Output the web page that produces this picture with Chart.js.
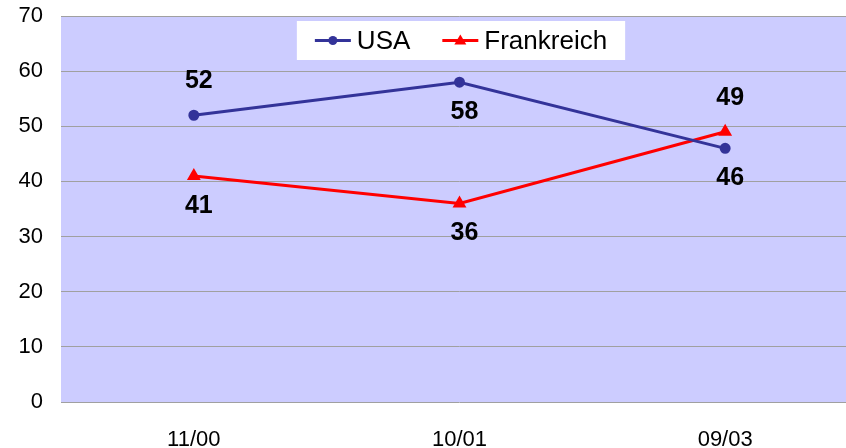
<!DOCTYPE html>
<html>
<head>
<meta charset="utf-8">
<script src="https://cdn.jsdelivr.net/npm/chart.js@4.4.1/dist/chart.umd.min.js"></script>
<style>
  html, body { margin: 0; padding: 0; background: #fff; overflow: hidden; }
  #wrap { width: 870px; height: 448px; position: relative; }
</style>
</head>
<body>
<div id="wrap"><canvas id="chart"></canvas></div>
<script>
// Daten
const categories = ["11/00", "10/01", "09/03"];
const usaValues = [52, 58, 46];
const frValues = [41, 36, 49];
const yTicks = [0, 10, 20, 30, 40, 50, 60, 70];

// Lage der Beschriftungen (über / unter dem Punkt)
const usaLabelPos = ["above", "below", "below"];
const frLabelPos = ["below", "below", "above"];

const USA_COLOR = "#333399";
const FR_COLOR = "#FF0000";
const FONT = "'Liberation Sans', Arial, sans-serif";

/** Hintergrund der Zeichenfläche */
const plotBg = {
  id: "plotBg",
  beforeDraw(chart) {
    const { ctx, chartArea: a } = chart;
    ctx.save();
    ctx.fillStyle = "#CCCCFF";
    ctx.fillRect(a.left, a.top, a.right - a.left, a.bottom - a.top);
    ctx.restore();
  }
};

/** Werte an den Punkten */
const valueLabels = {
  id: "valueLabels",
  afterDatasetsDraw(chart) {
    const ctx = chart.ctx;
    ctx.save();
    ctx.font = "bold 25px " + FONT;
    ctx.fillStyle = "#000";
    ctx.textAlign = "center";
    ctx.textBaseline = "middle";
    chart.data.datasets.forEach((ds, i) => {
      const meta = chart.getDatasetMeta(i);
      meta.data.forEach((pt, j) => {
        const dy = ds.labelPos[j] === "above" ? -34 : 30;
        ctx.fillText(String(ds.data[j]), pt.x + 5, pt.y + dy);
      });
    });
    ctx.restore();
  }
};

/** Legende mit weißem Kasten */
const boxLegend = {
  id: "boxLegend",
  afterDraw(chart) {
    const { ctx, chartArea: a } = chart;
    const sets = chart.data.datasets;
    ctx.save();
    ctx.font = "26px " + FONT;
    const sample = 36, gap = 6, itemGap = 32, padX = 18;
    let total = 0;
    sets.forEach((ds, i) => {
      total += sample + gap + ctx.measureText(ds.label).width;
      if (i < sets.length - 1) total += itemGap;
    });
    const w = total + padX * 2, h = 39;
    const cx = 461;
    const x0 = cx - w / 2, y0 = a.top + 5;
    ctx.fillStyle = "#fff";
    ctx.fillRect(x0, y0, w, h);
    let x = x0 + padX;
    const ym = y0 + h / 2;
    sets.forEach(ds => {
      ctx.strokeStyle = ds.borderColor;
      ctx.lineWidth = 3;
      ctx.beginPath();
      ctx.moveTo(x, ym);
      ctx.lineTo(x + sample, ym);
      ctx.stroke();
      ctx.fillStyle = ds.borderColor;
      const mx = x + sample / 2;
      ctx.beginPath();
      if (ds.pointStyle === "triangle") {
        ctx.moveTo(mx, ym - 6);
        ctx.lineTo(mx + 6, ym + 4);
        ctx.lineTo(mx - 6, ym + 4);
        ctx.closePath();
      } else {
        ctx.arc(mx, ym, 4.5, 0, Math.PI * 2);
      }
      ctx.fill();
      x += sample + gap;
      ctx.fillStyle = "#000";
      ctx.textAlign = "left";
      ctx.textBaseline = "middle";
      ctx.fillText(ds.label, x, ym + 1);
      x += ctx.measureText(ds.label).width + itemGap;
    });
    ctx.restore();
  }
};

new Chart(document.getElementById("chart"), {
  type: "line",
  data: {
    labels: categories,
    datasets: [
      {
        label: "USA",
        data: usaValues,
        labelPos: usaLabelPos,
        borderColor: USA_COLOR,
        backgroundColor: USA_COLOR,
        borderWidth: 3,
        pointStyle: "circle",
        pointRadius: 4,
        tension: 0
      },
      {
        label: "Frankreich",
        data: frValues,
        labelPos: frLabelPos,
        borderColor: FR_COLOR,
        backgroundColor: FR_COLOR,
        borderWidth: 3,
        pointStyle: "triangle",
        pointRadius: 5,
        tension: 0
      }
    ]
  },
  options: {
    responsive: true,
    maintainAspectRatio: false,
    animation: false,
    devicePixelRatio: 1,
    layout: { padding: { top: 16, right: 12, left: 0, bottom: 0 } },
    plugins: {
      legend: { display: false },
      tooltip: { enabled: false }
    },
    scales: {
      x: {
        offset: true,
        grid: { display: false, drawTicks: false },
        border: { display: false },
        ticks: { color: "#000", font: { family: FONT, size: 22 }, padding: 25 },
        afterFit(scale) { scale.height = 46; scale.paddingLeft = 0; scale.paddingRight = 0; }
      },
      y: {
        min: 0,
        max: 70,
        afterBuildTicks(scale) { scale.ticks = yTicks.map(v => ({ value: v })); },
        grid: { color: "#A0A0A0", lineWidth: 1, drawTicks: false },
        border: { display: false },
        ticks: { color: "#000", font: { family: FONT, size: 22 }, padding: 18 },
        afterFit(scale) { scale.width = 61; scale.paddingTop = 0; scale.paddingBottom = 0; }
      }
    }
  },
  plugins: [plotBg, valueLabels, boxLegend]
});
</script>
</body>
</html>
